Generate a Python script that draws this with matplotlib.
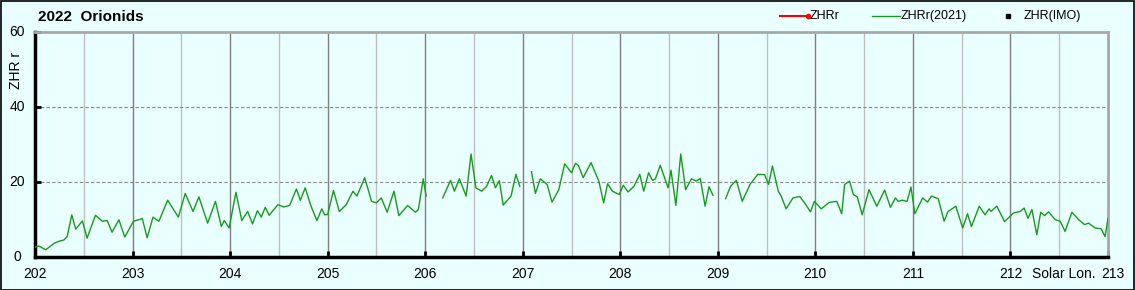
import numpy as np
import matplotlib
matplotlib.use("Agg")
import matplotlib.pyplot as plt
from matplotlib.patches import Rectangle
from matplotlib.lines import Line2D

plt.rcParams["font.family"] = ["Liberation Sans", "DejaVu Sans"]

# Solar longitude (deg) and ZHRr(2021) values; NaN marks gaps in the series
sol = [202.00, 202.04, 202.11, 202.16, 202.20, 202.25, 202.295, 202.33, 202.377, 202.418,
       202.486, 202.534, 202.62, 202.69, 202.74, 202.79, 202.86, 202.92, 203.01, 203.10,
       203.15, 203.21, 203.27, 203.36, 203.47, 203.54, 203.62, 203.68, 203.77, 203.85,
       203.91, 203.94, 203.99, 204.06, 204.12, 204.18, 204.23, 204.28, 204.32, 204.36,
       204.40, 204.49, 204.55, 204.61, 204.68, 204.72, 204.77, 204.83, 204.89, 204.94,
       204.97, 205.00, 205.06, 205.12, 205.19, 205.26, 205.30, 205.38, 205.45, 205.50,
       205.55, 205.61, 205.68, 205.73, 205.82, 205.90, 205.93, 205.98, 206.01,
       206.10,
       206.18, 206.26, 206.30, 206.35, 206.42, 206.47, 206.52, 206.58, 206.63, 206.68,
       206.72, 206.76, 206.80, 206.85, 206.88, 206.93, 206.97,
       207.03,
       207.09, 207.13, 207.18, 207.25, 207.30, 207.37, 207.43, 207.50, 207.54, 207.57,
       207.62, 207.70, 207.78, 207.83, 207.87, 207.92, 207.99, 208.03, 208.08, 208.14,
       208.20, 208.24, 208.29, 208.33, 208.36, 208.41, 208.49, 208.52, 208.57, 208.62,
       208.67, 208.73, 208.78, 208.82, 208.87, 208.91, 208.95,
       209.01,
       209.08, 209.13, 209.19, 209.25, 209.33, 209.41, 209.48, 209.52, 209.56, 209.62,
       209.65, 209.70, 209.77, 209.84, 209.89, 209.95, 209.99, 210.06, 210.14, 210.22,
       210.27, 210.30, 210.35, 210.39, 210.43, 210.48, 210.55, 210.63, 210.71, 210.77,
       210.82, 210.85, 210.89, 210.94, 210.98, 211.02, 211.10, 211.15, 211.19, 211.26,
       211.32, 211.36, 211.44, 211.51, 211.56, 211.60, 211.68, 211.74, 211.78, 211.80,
       211.86, 211.94, 212.03, 212.10, 212.14, 212.18, 212.22, 212.27, 212.31, 212.35,
       212.39, 212.46, 212.51, 212.56, 212.63, 212.70, 212.76, 212.80, 212.87, 212.93,
       212.97, 213.00]
zhr2021 = [2.7, 3.0, 2.0, 3.0, 3.8, 4.3, 4.6, 5.5, 11.3, 7.5,
           9.7, 5.1, 11.2, 9.6, 9.8, 6.7, 10.0, 5.4, 9.6, 10.3,
           5.2, 10.7, 9.6, 15.2, 10.7, 17.0, 12.2, 16.1, 9.1, 14.9,
           8.2, 9.8, 7.8, 17.3, 9.8, 12.2, 8.9, 12.4, 10.7, 13.3,
           11.2, 14.0, 13.4, 13.8, 18.2, 15.2, 18.5, 13.6, 9.8, 12.9,
           11.3, 11.4, 17.8, 12.2, 14.0, 17.6, 16.3, 21.2, 14.9, 14.5,
           15.8, 12.0, 17.6, 11.1, 13.8, 12.0, 12.7, 20.9, 16.3,
           np.nan,
           15.8, 20.5, 17.6, 20.9, 16.3, 27.5, 18.5, 17.6, 18.9, 21.8,
           18.5, 20.4, 13.9, 15.4, 16.3, 22.1, 18.9,
           np.nan,
           22.8, 17.0, 20.9, 19.4, 14.7, 18.0, 24.9, 22.5, 25.0, 24.5,
           21.2, 25.2, 20.3, 14.5, 19.6, 17.6, 16.7, 19.2, 17.4, 18.9,
           22.1, 17.6, 22.5, 20.5, 20.9, 24.5, 18.5, 23.2, 13.8, 27.5,
           18.0, 20.9, 20.3, 21.0, 13.6, 18.8, 16.5,
           np.nan,
           15.6, 18.9, 20.5, 14.9, 19.4, 22.1, 22.0, 19.4, 24.3, 17.6,
           16.3, 12.9, 15.8, 16.2, 14.5, 12.1, 14.9, 12.9, 14.6, 14.9,
           11.6, 19.4, 20.3, 16.7, 16.1, 11.3, 18.0, 13.6, 17.9, 13.3,
           15.8, 14.9, 15.2, 14.9, 18.7, 11.6, 15.8, 14.7, 16.3, 15.6,
           9.6, 12.2, 13.6, 7.8, 11.6, 8.2, 13.6, 11.3, 12.9, 12.2,
           13.6, 9.5, 11.8, 12.2, 13.1, 10.4, 12.7, 6.0, 12.0, 11.1,
           12.1, 10.0, 9.6, 6.9, 12.0, 10.0, 8.7, 9.1, 7.8, 7.6,
           5.5, 10.4]

xticks = [202, 203, 204, 205, 206, 207, 208, 209, 210, 211, 212, 213]
yticks = [0, 20, 40, 60]
title = "2022  Orionids"
legend_labels = ["ZHRr", "ZHRr(2021)", "ZHR(IMO)"]

BG = "#EAFFFF"
W, H = 1135, 290
fig = plt.figure(figsize=(W / 100, H / 100), dpi=100, facecolor=BG)
ax = fig.add_axes([35 / W, 1 - 257.3 / H, (1108 - 35) / W, (257.3 - 32) / H])
ax.set_facecolor(BG)
ax.set_xlim(202, 213)
ax.set_ylim(0, 60)

# grid
for v in np.arange(202.5, 213, 0.5):
    is_int = abs(v - round(v)) < 1e-6
    ax.axvline(v, color="#7f7f7f" if is_int else "#c0c0c0", lw=1.0, zorder=1)
for h in [20, 40]:
    ax.axhline(h, color="#8a8a8a", lw=0.8, ls=(0, (3, 2)), zorder=1)

ax.plot(sol, zhr2021, color="#1a9a1a", lw=1.0, zorder=3)

for s in ["left", "bottom"]:
    ax.spines[s].set_color("black")
    ax.spines[s].set_linewidth(2.5)
for s in ["top", "right"]:
    ax.spines[s].set_color("#a8a8a8")
    ax.spines[s].set_linewidth(2.0)

ax.set_xticks(xticks)
ax.set_yticks(yticks)
ax.set_xticklabels([])
ax.set_yticklabels([])
ax.tick_params(direction="in", length=4, width=2, color="black")
ax.tick_params(axis="x", top=False)
ax.tick_params(axis="y", right=False)

fs = 10
trans = ax.transData
for t in xticks:
    if t == 213:
        continue
    ax.text(t, -2.6, str(t), ha="center", va="top", fontsize=fs, transform=trans)
ax.text(212.55, -2.6, "Solar Lon.", ha="center", va="top", fontsize=fs)
ax.text(213.05, -2.6, "213", ha="center", va="top", fontsize=fs)
for t in yticks:
    ax.text(201.82, t, str(t), ha="center", va="center", fontsize=fs)
fig.text(16 / W, 1 - 70 / H, "ZHR r", rotation=90, ha="center", va="center", fontsize=fs)
fig.text(38 / W, 1 - 17 / H, title, ha="left", va="center", fontsize=11, fontweight="bold")

# legend (manual, top right)
ly = 1 - 16 / H
fig.add_artist(Line2D([780 / W, 808 / W], [ly, ly], color="red", lw=1.5,
                      marker="o", markersize=3, markevery=[1], transform=fig.transFigure))
fig.text(810 / W, ly, legend_labels[0], ha="left", va="center", fontsize=9)
fig.add_artist(Line2D([872 / W, 900 / W], [ly, ly], color="#1a9a1a", lw=1.0,
                      transform=fig.transFigure))
fig.text(901 / W, ly, legend_labels[1], ha="left", va="center", fontsize=9)
fig.add_artist(Line2D([1008 / W], [ly], color="black", marker="s", markersize=3.5,
                      lw=0, transform=fig.transFigure))
fig.text(1024 / W, ly, legend_labels[2], ha="left", va="center", fontsize=9)

fig.add_artist(Rectangle((0.5 / W, 0.5 / H), 1 - 1.5 / W, 1 - 1.5 / H, fill=False,
                         edgecolor="black", lw=1.2, transform=fig.transFigure))

fig.savefig("out.png", dpi=100, facecolor=BG)
